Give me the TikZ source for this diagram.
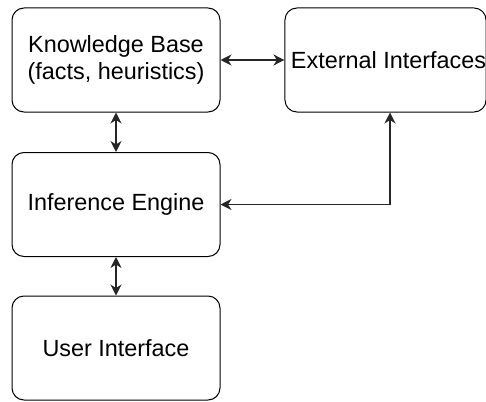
\documentclass[tikz,border=0pt]{standalone}
\usepackage{fontspec}
\setmainfont{Liberation Sans}
\usetikzlibrary{arrows.meta}
\tikzset{
  block/.style={draw=black, line width=1pt, rounded corners=12pt, rectangle,
    minimum width=208pt, minimum height=104pt, inner sep=0pt, align=center,
    font=\fontsize{23.4}{27}\selectfont},
  link/.style={draw=black!85, line width=1.2pt,
    {Stealth[length=11pt,width=11pt,inset=3.5pt]}-{Stealth[length=11pt,width=11pt,inset=3.5pt]}}
}
\begin{document}
\begin{tikzpicture}[x=1pt,y=-1pt]
  \useasboundingbox (0,0) rectangle (486,401);
  % the four components
  \node[block] (kb) at (116,60) {Knowledge Base\\(facts, heuristics)};
  \node[block, minimum width=199pt] (ext) at (385.5,60) {\hspace*{6pt}External Interfaces};
  \node[block] (ie) at (116,204.5) {Inference Engine};
  \node[block] (ui) at (116,348) {User Interface};
  % two-way connections
  \draw[link] (kb.east) -- (ext.west);
  \draw[link] (kb.south) -- (ie.north);
  \draw[link] (ie.south) -- (ui.north);
  \coordinate (bend) at (390,204.5);
  \draw[link] (ie.east) -- (bend) -- (bend |- ext.south);
\end{tikzpicture}
\end{document}
